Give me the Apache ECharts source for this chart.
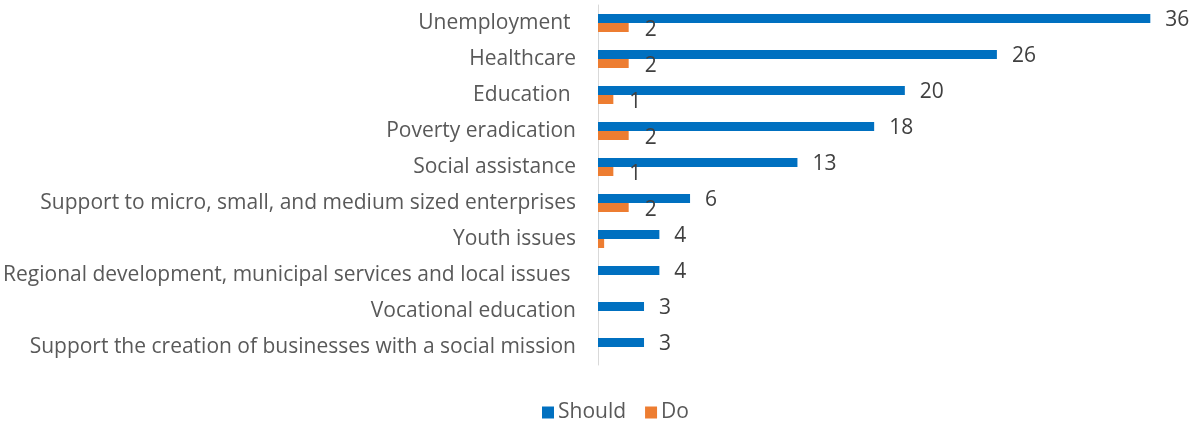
<!DOCTYPE html>
<html>
<head>
<meta charset="utf-8">
<script src="https://cdn.jsdelivr.net/npm/echarts@6/dist/echarts.min.js"></script>
<style>
  html, body { margin: 0; padding: 0; background: #fff; }
  #chart { width: 1199px; height: 425px; }
</style>
</head>
<body>
<div id="chart"></div>
<script>
// Survey topics, top to bottom
const categories = [
  'Unemployment ',
  'Healthcare',
  'Education ',
  'Poverty eradication',
  'Social assistance',
  'Support to micro, small, and medium sized enterprises',
  'Youth issues',
  'Regional development, municipal services and local issues ',
  'Vocational education',
  'Support the creation of businesses with a social mission'
];
const shouldValues = [36, 26, 20, 18, 13, 6, 4, 4, 3, 3];
const doValues = [2, 2, 1, 2, 1, 2, 0.4, null, null, null];
const seriesNames = ['Should', 'Do'];

const FONT = '"Open Sans", sans-serif';

const chart = echarts.init(document.getElementById('chart'), null, { renderer: 'canvas' });

chart.setOption({
  animation: false,
  textStyle: { fontFamily: FONT },
  legend: {
    data: seriesNames,
    top: 397,
    left: 537,
    itemWidth: 12,
    itemHeight: 12,
    itemGap: 19,
    icon: 'rect',
    textStyle: { fontSize: 21, color: '#595959', fontFamily: FONT, padding: [0, 0, 0, -1] }
  },
  grid: { left: 598, right: 18, top: 5, bottom: 60, containLabel: false },
  xAxis: {
    type: 'value',
    min: 0,
    max: 38,
    show: false
  },
  yAxis: {
    type: 'category',
    data: categories,
    inverse: true,
    axisLine: { show: true, lineStyle: { color: '#d9d9d9', width: 1 } },
    axisTick: { show: false },
    axisLabel: {
      fontSize: 21,
      color: '#595959',
      margin: 22,
      fontFamily: FONT,
      padding: [4, 0, 0, 0]
    }
  },
  series: [
    {
      name: seriesNames[0],
      type: 'bar',
      data: shouldValues,
      barWidth: 9,
      barGap: '0%',
      barCategoryGap: '50%',
      itemStyle: { color: '#0070C0' },
      label: {
        show: true,
        position: 'right',
        distance: 15,
        offset: [0, 2],
        fontSize: 21,
        color: '#404040',
        fontFamily: FONT
      }
    },
    {
      name: seriesNames[1],
      type: 'bar',
      data: doValues.map(v => ({
        value: v,
        label: { show: v !== null && v >= 0.5 }
      })),
      barWidth: 9,
      itemStyle: { color: '#ED7D31' },
      label: {
        position: 'right',
        distance: 16,
        offset: [0, 3],
        fontSize: 21,
        color: '#404040',
        fontFamily: FONT,
        formatter: p => p.value
      }
    }
  ]
});
</script>
</body>
</html>
